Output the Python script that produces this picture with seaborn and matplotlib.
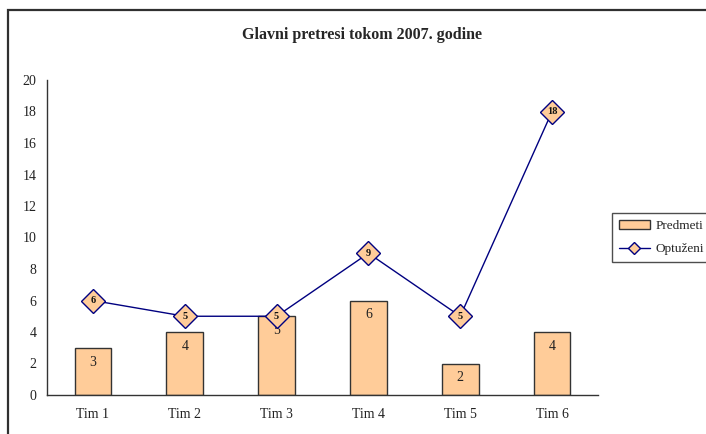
import matplotlib
matplotlib.use("Agg")
import matplotlib.pyplot as plt
from matplotlib.patches import Rectangle
import seaborn as sns
import pandas as pd

teams = ["Tim 1", "Tim 2", "Tim 3", "Tim 4", "Tim 5", "Tim 6"]
cases = [3, 4, 5, 6, 2, 4]        # Predmeti
accused = [6, 5, 5, 9, 5, 18]     # Optuženi
y_ticks = list(range(0, 21, 2))

sns.set_theme(style="white")
plt.rcParams["font.family"] = ["Liberation Serif", "DejaVu Serif"]

df = pd.DataFrame({"tim": teams, "predmeti": cases, "optuzeni": accused})

fig = plt.figure(figsize=(7.06, 4.34), dpi=100)
ax = fig.add_axes([47 / 706, 1 - 395 / 434, (598 - 47) / 706, (395 - 80) / 434])

# chart frame (runs off the right and bottom edge)
fig.patches.append(Rectangle((8 / 706, -0.1), 1.2, 1 - 10 / 434 + 0.1,
                             transform=fig.transFigure, fill=False,
                             edgecolor="#303030", linewidth=1.6, zorder=0))

sns.barplot(data=df, x="tim", y="predmeti", ax=ax, width=0.4,
            color="#FFCC99", saturation=1, edgecolor="#333333",
            linewidth=1.0, label="Predmeti", zorder=2)
bars = ax.containers[0]
ax.bar_label(bars, labels=[str(v) for v in cases], padding=-15,
             fontsize=10, color="#222222")

sns.pointplot(data=df, x="tim", y="optuzeni", ax=ax, color="#000080",
              markers="D", linestyles="-", label="Optuženi",
              markersize=12, markerfacecolor="#FFCC99",
              markeredgecolor="#000080", markeredgewidth=1.0,
              linewidth=1.0, zorder=4)
for i, v in enumerate(accused):
    ax.text(i, v, str(v), ha="center", va="center", fontsize=7.5,
            fontweight="bold", color="#111111", zorder=5)

ax.set_xlim(-0.5, 5.5)
ax.set_ylim(0, 20)
ax.set_yticks(y_ticks)
ax.set_xlabel("")
ax.set_ylabel("")
ax.set_xticks(range(len(teams)))
ax.set_xticklabels(teams)
ax.set_xticks([i - 0.5 for i in range(len(teams) + 1)], minor=True)
ax.tick_params(axis="x", which="major", length=0, pad=9, labelsize=10,
               colors="#222222")
ax.tick_params(axis="x", which="minor", length=7, direction="inout",
               width=1, color="#333333")
ax.tick_params(axis="y", length=7, direction="inout", width=1,
               color="#333333", labelsize=10, labelcolor="#222222", pad=4)
for s in ["top", "right"]:
    ax.spines[s].set_visible(False)
for s in ["left", "bottom"]:
    ax.spines[s].set_color("#333333")
    ax.spines[s].set_linewidth(1.0)
ax.grid(False)
if ax.legend_:
    ax.legend_.remove()

fig.text(362 / 706, 1 - 35 / 434, "Glavni pretresi tokom 2007. godine",
         ha="center", va="center", fontsize=11.5, fontweight="bold")

h, l = ax.get_legend_handles_labels()
order = [l.index("Predmeti"), l.index("Optuženi")]
leg = fig.legend([h[i] for i in order], [l[i] for i in order],
                 loc="upper left", bbox_to_anchor=(612 / 706, 1 - 213 / 434),
                 frameon=True, fontsize=9.5, fancybox=False, borderaxespad=0,
                 handlelength=2.4, handletextpad=0.4, borderpad=0.5,
                 labelspacing=0.85, markerscale=0.55)
leg.get_frame().set_edgecolor("#222222")
leg.get_frame().set_linewidth(1.0)

fig.savefig("out.png", dpi=100)
